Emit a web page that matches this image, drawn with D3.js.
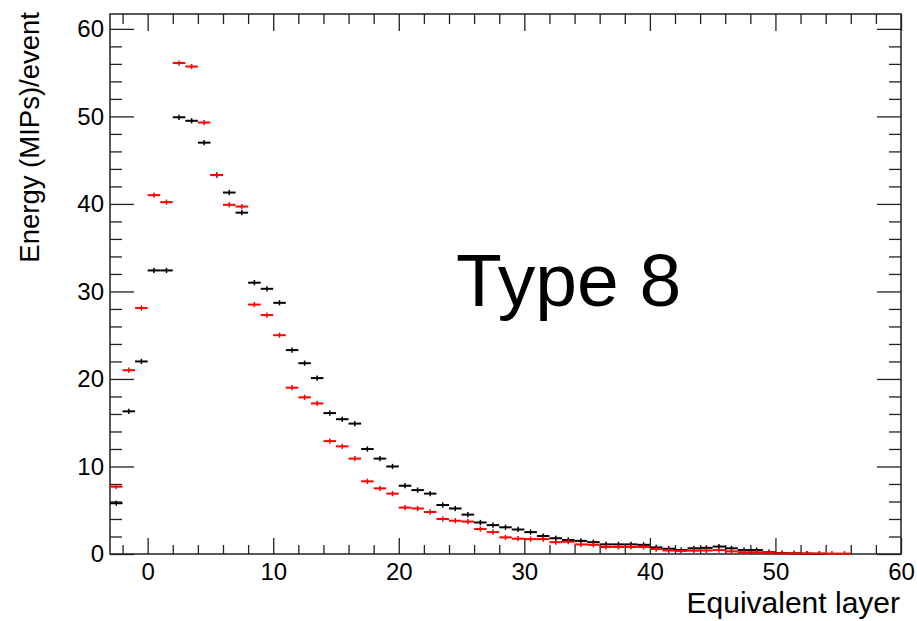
<!DOCTYPE html>
<html><head><meta charset="utf-8">
<script src="https://cdn.jsdelivr.net/npm/d3@7"></script>
<style>
body{margin:0;background:#fff;}
svg{display:block;font-family:"Liberation Sans",Arial,sans-serif;}
</style></head>
<body>
<svg id="chart" width="917" height="621"></svg>
<script>
// ---- data ----
const binCenters = [-2.5,-1.5,-0.5,0.5,1.5,2.5,3.5,4.5,5.5,6.5,7.5,8.5,9.5,10.5,11.5,12.5,13.5,14.5,15.5,16.5,17.5,18.5,19.5,20.5,21.5,22.5,23.5,24.5,25.5,26.5,27.5,28.5,29.5,30.5,31.5,32.5,33.5,34.5,35.5,36.5,37.5,38.5,39.5,40.5,41.5,42.5,43.5,44.5,45.5,46.5,47.5,48.5,49.5,50.5,51.5,52.5,53.5,54.5,55.5];
const blackValues = [5.8,16.3,22.0,32.4,32.4,49.9,49.5,47.0,43.3,41.3,39.0,31.0,30.3,28.7,23.3,21.8,20.1,16.1,15.4,14.9,12.0,10.9,10.0,7.8,7.3,6.9,5.6,5.2,4.5,3.6,3.3,3.05,2.8,2.5,2.05,1.8,1.6,1.5,1.35,1.1,1.1,1.1,1.05,0.75,0.6,0.45,0.65,0.7,0.85,0.65,0.45,0.45,0.2,0.1,0.08,0.05,0.03,null,null];
const redValues = [7.7,21.0,28.1,41.0,40.2,56.1,55.7,49.3,43.3,39.9,39.7,28.5,27.3,25.0,19.0,17.9,17.2,12.9,12.3,10.9,8.3,7.5,6.9,5.3,5.2,4.8,4.0,3.8,3.7,2.85,2.5,1.9,1.75,1.7,1.7,1.35,1.4,1.1,1.05,0.8,0.8,0.8,0.8,0.57,0.4,0.35,0.38,0.4,0.45,0.3,0.2,0.2,0.15,0.07,0.06,0.05,0.05,0.04,0.04];
const xMajorTicks = [0,10,20,30,40,50,60];
const yMajorTicks = [0,10,20,30,40,50,60];
const xTitle = "Equivalent layer";
const yTitle = "Energy (MIPs)/event";
const annotation = "Type 8";

// ---- layout/style ----
const svg = d3.select("#chart");
const L = 110, R = 901, T = 14, B = 554;
const x = d3.scaleLinear().domain([-3, 60]).range([L, R]);
const y = d3.scaleLinear().domain([0, 61.7]).range([B, T]);
const binW = 1, errHalf = 0.3;
const fs = 24;
const axisColor = "#222";

const xMinor = d3.range(-2, 60, 2).filter(v => v % 10 !== 0);
const yMinor = d3.range(2, 61, 2).filter(v => v % 10 !== 0);

function styleAxis(g){
  g.select(".domain").remove();
  g.selectAll("line").attr("stroke", axisColor).attr("stroke-width", 1.3);
  g.selectAll("text").attr("fill", "#000").style("font-size", fs + "px")
    .style("font-family", '"Liberation Sans",Arial,sans-serif');
}

// bottom
svg.append("g").attr("transform", `translate(0,${B})`)
  .call(d3.axisBottom(x).tickValues(xMajorTicks).tickSize(-16).tickPadding(9).tickFormat(d3.format("d")))
  .call(styleAxis);
svg.append("g").attr("transform", `translate(0,${B})`)
  .call(d3.axisBottom(x).tickValues(xMinor).tickSize(-9).tickFormat(""))
  .call(styleAxis);
// top
svg.append("g").attr("transform", `translate(0,${T})`)
  .call(d3.axisTop(x).tickValues(xMajorTicks).tickSize(-17).tickFormat(""))
  .call(styleAxis);
svg.append("g").attr("transform", `translate(0,${T})`)
  .call(d3.axisTop(x).tickValues(xMinor).tickSize(-10).tickFormat(""))
  .call(styleAxis);
// left
svg.append("g").attr("transform", `translate(${L},0)`)
  .call(d3.axisLeft(y).tickValues(yMajorTicks).tickSize(-24).tickPadding(6).tickFormat(d3.format("d")))
  .call(styleAxis);
svg.append("g").attr("transform", `translate(${L},0)`)
  .call(d3.axisLeft(y).tickValues(yMinor).tickSize(-12).tickFormat(""))
  .call(styleAxis);
// right
svg.append("g").attr("transform", `translate(${R},0)`)
  .call(d3.axisRight(y).tickValues(yMajorTicks).tickSize(-24).tickFormat(""))
  .call(styleAxis);
svg.append("g").attr("transform", `translate(${R},0)`)
  .call(d3.axisRight(y).tickValues(yMinor).tickSize(-12).tickFormat(""))
  .call(styleAxis);

// frame
svg.append("rect").attr("x", L).attr("y", T).attr("width", R - L).attr("height", B - T)
  .attr("fill", "none").attr("stroke", axisColor).attr("stroke-width", 1.5);

// series
function drawSeries(vals, color){
  const data = binCenters.map((c, i) => ({c, v: vals[i]})).filter(d => d.v != null);
  const g = svg.append("g");
  g.selectAll("line.h").data(data).join("line").attr("class", "h")
    .attr("x1", d => x(d.c - binW / 2)).attr("x2", d => x(d.c + binW / 2))
    .attr("y1", d => y(d.v)).attr("y2", d => y(d.v))
    .attr("stroke", color).attr("stroke-width", 2);
  g.selectAll("line.e").data(data).join("line").attr("class", "e")
    .attr("x1", d => x(d.c)).attr("x2", d => x(d.c))
    .attr("y1", d => y(Math.max(0, d.v - errHalf))).attr("y2", d => y(d.v + errHalf))
    .attr("stroke", color).attr("stroke-width", 1.5);
}
drawSeries(blackValues, "#000");
drawSeries(redValues, "#ff0000");

// titles
svg.append("text").attr("x", R - 1).attr("y", 613).attr("text-anchor", "end")
  .style("font-size", "30px").text(xTitle);
svg.append("text").attr("transform", `translate(39,12) rotate(-90)`).attr("text-anchor", "end")
  .style("font-size", "27.5px").text(yTitle);
svg.append("text").attr("x", 456).attr("y", 306).style("font-size", "75px").text(annotation);
</script>
</body></html>
